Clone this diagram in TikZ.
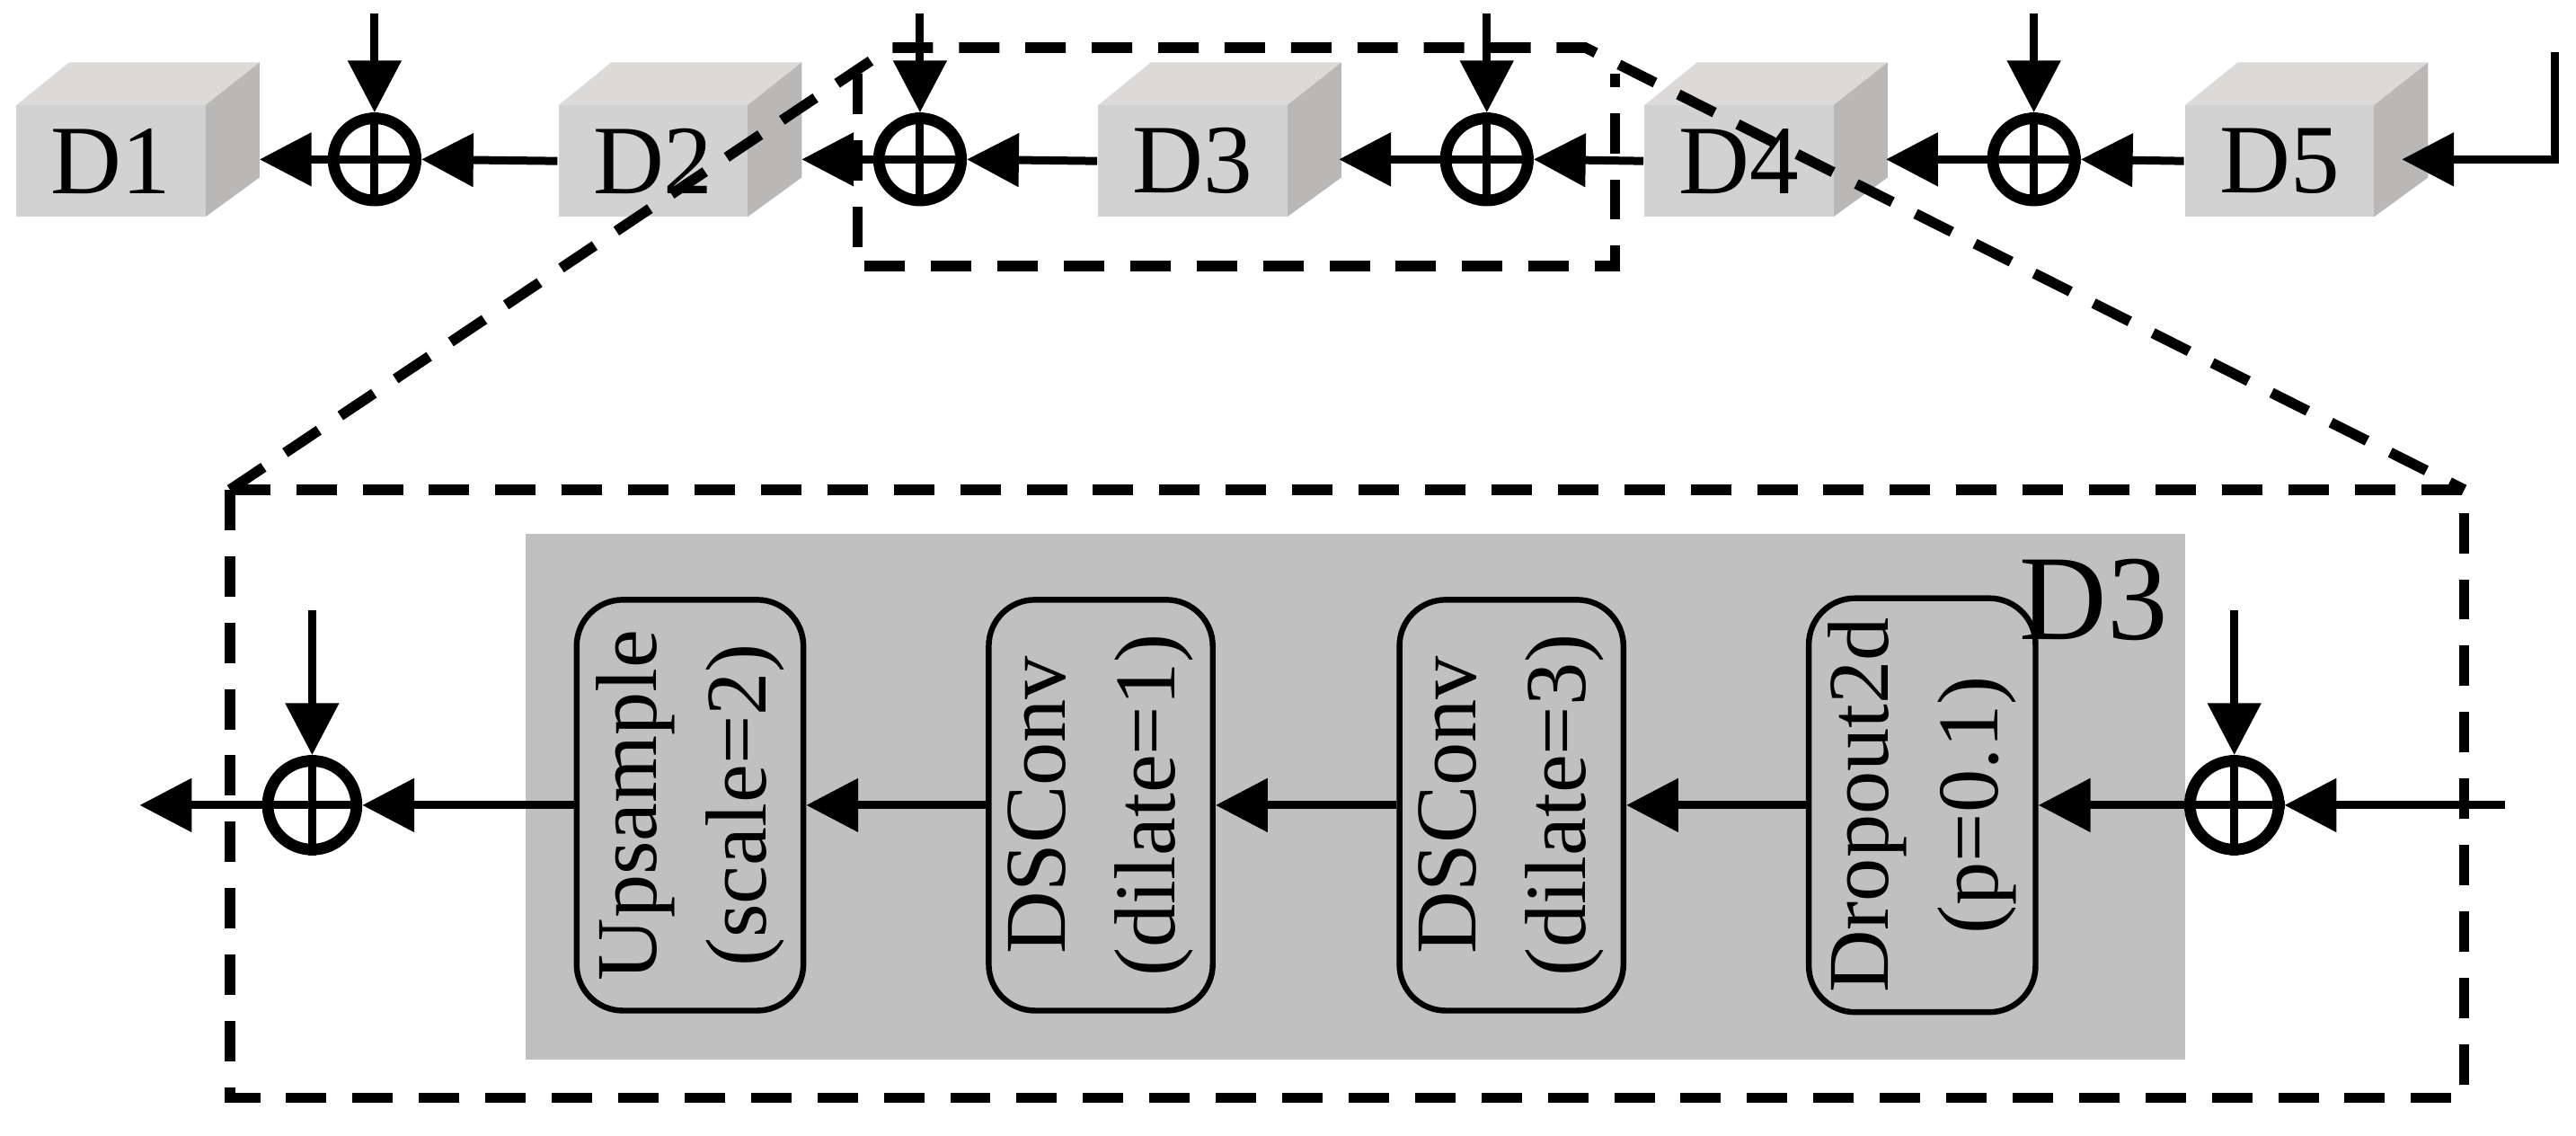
\documentclass[tikz,border=0pt]{standalone}
\usepackage{fontspec}
\setmainfont{Liberation Serif}
\usetikzlibrary{arrows.meta}
\definecolor{cubefront}{HTML}{D3D2D2}
\definecolor{cubetop}{HTML}{DCD9D9}
\definecolor{cubeside}{HTML}{BAB7B7}
\definecolor{panel}{HTML}{C0C0C0}
\tikzset{
  flow/.style={line width=1.4pt, -{Triangle[length=9pt,width=9pt]}},
  sum/.style={circle, draw, line width=2pt, minimum size=0.5cm, inner sep=0pt},
  sumbig/.style={circle, draw, line width=2pt, minimum size=0.54cm, inner sep=0pt},
  frame/.style={dashed, line width=1.8pt, dash pattern=on 7pt off 4.5pt},
  block/.style={draw, line width=1pt, rounded corners=8pt, minimum width=2.5cm, minimum height=1.3cm,
    rotate=90, align=center, font=\fontsize{15}{19}\selectfont},
}
% cube: front face anchored by its node
\newcommand{\cube}[3]{%
  \fill[cubetop] (#2-0.575,-0.64) -- (#2-0.255,-0.38) -- (#2+0.905,-0.38) -- (#2+0.575,-0.64) -- cycle;
  \fill[cubeside] (#2+0.575,-0.64) -- (#2+0.905,-0.38) -- (#2+0.905,-1.08) -- (#2+0.575,-1.32) -- cycle;
  \node[fill=cubefront, minimum width=1.15cm, minimum height=0.68cm, inner sep=0pt,
    font=\fontsize{17}{19}\selectfont] (#1) at (#2,-0.98) {#3};
}
\begin{document}
\begin{tikzpicture}
\useasboundingbox (0,0) rectangle (15.68,-6.91);
% top row
\cube{d1}{0.675}{D1}
\cube{d2}{3.975}{D2}
\cube{d3}{7.26}{D3}
\cube{d4}{10.585}{D4}
\cube{d5}{13.875}{D5}
\node[sum] (s1) at (2.28,-0.97) {};
\node[sum] (s2) at (5.60,-0.97) {};
\node[sum] (s3) at (9.05,-0.97) {};
\node[sum] (s4) at (12.38,-0.97) {};
\foreach \s in {s1,s2,s3,s4} {
  \draw[line width=1.4pt] (\s.north) -- (\s.south) (\s.west) -- (\s.east);
  \coordinate (\s in) at ([yshift=0.6cm]\s.north);
  \draw[flow] (\s in) -- (\s.north);
}
\coordinate (in) at (15.55,-0.32);
\coordinate (inc) at (15.55,-0.97);
\draw[flow] (in) -- (inc) -- (14.62,-0.97);
\draw[flow] (d5.west) -- (s4.east);
\draw[flow] (s4.west) -- (11.48,-0.97);
\draw[flow] (d4.west) -- (s3.east);
\draw[flow] (s3.west) -- (8.15,-0.97);
\draw[flow] (d3.west) -- (s2.east);
\draw[flow] (s2.west) -- (4.88,-0.97);
\draw[flow] (d2.west) -- (s1.east);
\draw[flow] (s1.west) -- (1.58,-0.97);
% zoom frames
\draw[frame] (5.22,-0.45) -- (5.22,-1.62) -- (9.83,-1.62) -- (9.83,-0.45);
\draw[frame] (1.40,-2.98) -- (5.42,-0.29) -- (9.65,-0.29) -- (15.0,-2.98);
\draw[frame] (1.40,-2.98) rectangle (15.0,-6.68);
% detail of D3
\fill[panel] (3.20,-3.25) rectangle (13.30,-6.45);
\node[font=\fontsize{21}{24}\selectfont, anchor=north east] (lbl) at (13.32,-3.28) {D3};
\node[block] (up) at (4.20,-4.90) {Upsample\\(scale=2)};
\node[block] (c1) at (6.70,-4.90) {DSConv\\(dilate=1)};
\node[block] (c3) at (9.20,-4.90) {DSConv\\(dilate=3)};
\node[block] (dp) at (11.70,-4.90) {Dropout2d\\(p=0.1)};
\node[sumbig] (sl) at (1.90,-4.90) {};
\node[sumbig] (sr) at (13.60,-4.90) {};
\foreach \s in {sl,sr} {
  \draw[line width=1.4pt] (\s.north) -- (\s.south) (\s.west) -- (\s.east);
  \coordinate (\s in) at ([yshift=0.88cm]\s.north);
  \draw[flow] (\s in) -- (\s.north);
}
\coordinate (din) at (15.25,-4.90);
\coordinate (dout) at (0.85,-4.90);
\draw[flow] (din) -- (sr.east);
\draw[flow] (sr.west) -- (dp.south);
\draw[flow] (dp.north) -- (c3.south);
\draw[flow] (c3.north) -- (c1.south);
\draw[flow] (c1.north) -- (up.south);
\draw[flow] (up.north) -- (sl.east);
\draw[flow] (sl.west) -- (dout);
\end{tikzpicture}
\end{document}
